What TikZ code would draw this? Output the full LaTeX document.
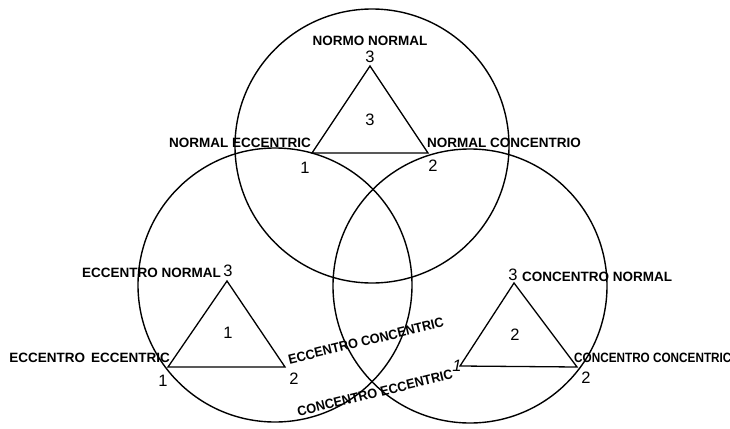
\documentclass[tikz,border=0pt]{standalone}
\usepackage{fontspec}
\setmainfont{Liberation Sans}
\begin{document}
\begin{tikzpicture}[x=1pt,y=-1pt,
  ring/.style={draw,line width=1.4pt},
  tri/.style={draw,line width=1.3pt,line join=miter},
  lbl/.style={inner sep=0pt,font=\fontsize{13.5}{15}\selectfont\bfseries},
  num/.style={inner sep=0pt,font=\fontsize{16.5}{18}\selectfont}]
\useasboundingbox (0,0) rectangle (730,428);
% circles
\coordinate (ctop) at (372,146);
\coordinate (cleft) at (275,285);
\coordinate (cright) at (470,286);
\draw[ring] (ctop) circle[radius=137pt];
\draw[ring] (cleft) circle[radius=137pt];
\draw[ring] (cright) circle[radius=137pt];
% top triangle
\coordinate (a1) at (312,153);
\coordinate (a2) at (428,153);
\coordinate (a3) at (370,66);
\draw[tri] (a1)--(a2)--(a3)--cycle;
% left triangle
\coordinate (b1) at (168,367);
\coordinate (b2) at (285,367);
\coordinate (b3) at (227,281);
\draw[tri] (b1)--(b2)--(b3)--cycle;
% right triangle
\coordinate (c1) at (460,366);
\coordinate (c2) at (577,367);
\coordinate (c3) at (514,283);
\draw[tri] (c1)--(c2)--(c3)--cycle;
% top labels
\node[lbl] (nn) at (370,41) {NORMO NORMAL};
\node[num] (a3l) at (370,57) {3};
\node[num] (a0) at (370,120) {3};
\node[num] (a1l) at (305,168) {1};
\node[num] (a2l) at (433,166) {2};
\node[lbl,anchor=east] (ne) at (311,143) {NORMAL ECCENTRIC};
\node[lbl,anchor=west] (nc) at (427,143) {NORMAL CONCENTRIO};
% left labels
\node[lbl,anchor=east] (en) at (221,273) {ECCENTRO NORMAL};
\node[num] (b3l) at (228,271) {3};
\node[num] (b0) at (228,333) {1};
\node[lbl,anchor=east] (ee) at (170,358) {ECCENTRO\hspace{6pt}ECCENTRIC};
\node[num] (b1l) at (163,381) {1};
\node[num] (b2l) at (294,379) {2};
\node[lbl,rotate=13.6,xscale=0.94] (ec) at (366,341) {ECCENTRO CONCENTRIC};
\node[lbl,rotate=13.6,xscale=0.94] (ce) at (375,393) {CONCENTRO ECCENTRIC};
% right labels
\node[num] (c3l) at (513,275) {3};
\node[lbl,anchor=west] (cn) at (522,277) {CONCENTRO NORMAL};
\node[num] (c0) at (515,335) {2};
\node[num,font=\fontsize{16.5}{18}\selectfont\itshape] (c1l) at (457,366) {1};
\node[lbl,anchor=west,xscale=0.87] (cc) at (574,358) {CONCENTRO CONCENTRIC};
\node[num] (c2l) at (586,378) {2};
\end{tikzpicture}
\end{document}
